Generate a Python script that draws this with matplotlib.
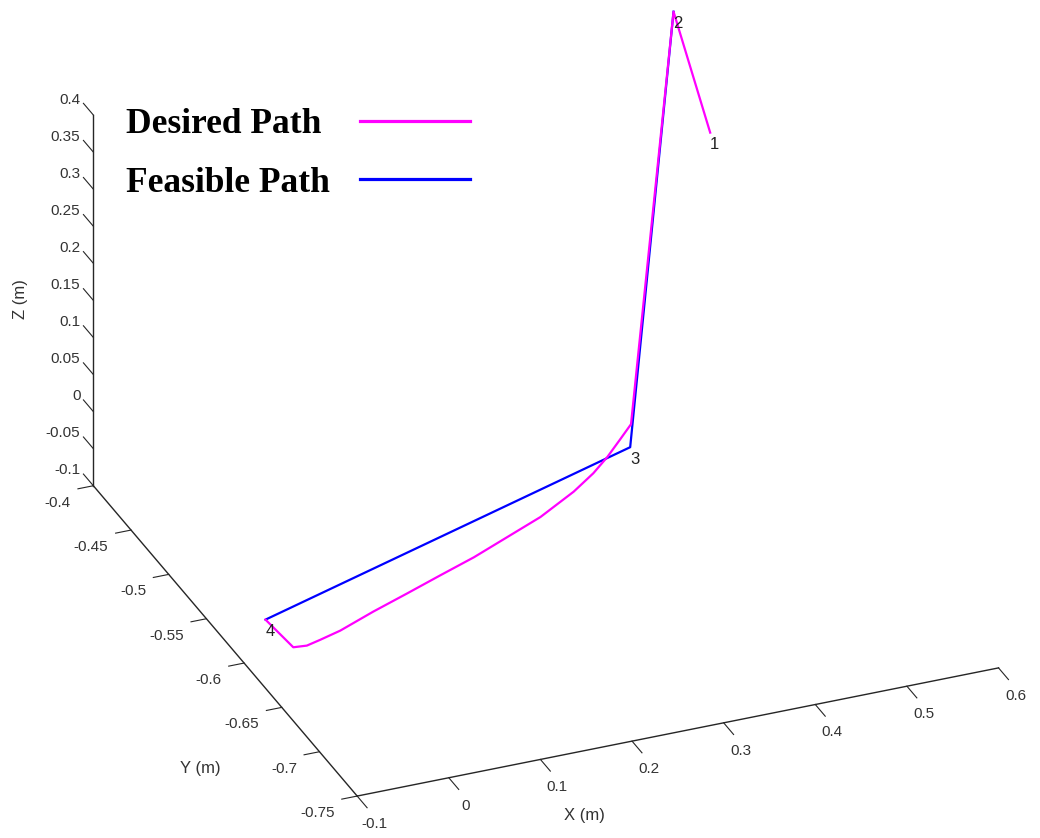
import numpy as np
import matplotlib
matplotlib.use("Agg")
import matplotlib.pyplot as plt
from matplotlib.font_manager import FontProperties
from mpl_toolkits.mplot3d import proj3d

# ---------------------------------------------------------------------------
# Path data (m)
# ---------------------------------------------------------------------------
desired_x = [0.565, 0.525, 0.421, 0.398, 0.373, 0.347, 0.314, 0.263, 0.216,
             0.169, 0.123, 0.078, 0.032, -0.014, -0.040, -0.057, -0.071, -0.075]
desired_y = [-0.410, -0.410, -0.480, -0.493, -0.507, -0.520, -0.534, -0.552, -0.565,
             -0.578, -0.589, -0.600, -0.611, -0.623, -0.628, -0.631, -0.630, -0.598]
desired_z = [0.224, 0.397, -0.05, -0.05, -0.05, -0.05, -0.05, -0.05, -0.05,
             -0.05, -0.05, -0.05, -0.05, -0.05, -0.05, -0.05, -0.05, -0.05]

feasible_x = [0.525, 0.402, -0.075]
feasible_y = [-0.410, -0.502, -0.598]
feasible_z = [0.397, -0.05, -0.05]

waypoint_ids = ["1", "2", "3", "4"]
waypoint_x = [0.565, 0.525, 0.402, -0.075]
waypoint_y = [-0.410, -0.410, -0.502, -0.598]
waypoint_z = [0.224, 0.397, -0.05, -0.05]

x_ticks = [-0.1, 0.0, 0.1, 0.2, 0.3, 0.4, 0.5, 0.6]
y_ticks = [-0.75, -0.7, -0.65, -0.6, -0.55, -0.5, -0.45, -0.4]
z_ticks = [-0.1, -0.05, 0.0, 0.05, 0.1, 0.15, 0.2, 0.25, 0.3, 0.35, 0.4]
x_ticklabels = ["-0.1", "0", "0.1", "0.2", "0.3", "0.4", "0.5", "0.6"]
y_ticklabels = ["-0.75", "-0.7", "-0.65", "-0.6", "-0.55", "-0.5", "-0.45", "-0.4"]
z_ticklabels = ["-0.1", "-0.05", "0", "0.05", "0.1", "0.15", "0.2", "0.25", "0.3", "0.35", "0.4"]

XLIM = (-0.1, 0.6)
YLIM = (-0.75, -0.4)
ZLIM = (-0.1, 0.4)

W, H = 1040, 838
AXIS_COLOR = "#262626"
TEXT_COLOR = "#333333"

plt.rcParams["font.family"] = ["Liberation Sans", "DejaVu Sans"]

fig = plt.figure(figsize=(W / 100, H / 100), dpi=100)
ax = fig.add_axes([0.05, 0.05, 0.9, 0.9], projection="3d", computed_zorder=False)

ax.plot(feasible_x, feasible_y, feasible_z, color="#0000FF", linewidth=1.6,
        label="Feasible Path", zorder=2)
ax.plot(desired_x, desired_y, desired_z, color="#FF00FF", linewidth=1.6,
        label="Desired Path", zorder=3)

ax.set_proj_type("ortho")
ax.view_init(elev=29.0, azim=-112.4)
ax.set_box_aspect((1.0, 0.998, 0.611))
ax.set_xlim(*XLIM)
ax.set_ylim(*YLIM)
ax.set_zlim(*ZLIM)

ax.set_xticks(x_ticks)
ax.set_yticks(y_ticks)
ax.set_zticks(z_ticks)
ax.tick_params(color=AXIS_COLOR)
ax.grid(False)

for axis in (ax.xaxis, ax.yaxis, ax.zaxis):
    axis.set_pane_color((1, 1, 1, 0))
    axis.line.set_color(AXIS_COLOR)
    axis.line.set_linewidth(1.0)
    axis.set_tick_params(labelbottom=False)

# tick marks pointing away from the box, z ticks along y
ax.zaxis._get_tickdir = lambda position: 1
ax.xaxis._axinfo["tick"].update(inward_factor=0.47, outward_factor=0.0)
ax.yaxis._axinfo["tick"].update(inward_factor=0.30, outward_factor=0.0)
ax.zaxis._axinfo["tick"].update(inward_factor=0.0, outward_factor=0.47)

# Place the axis box so the frame corners sit at fixed figure pixels
# (pixel rows counted from the top of the figure).
corner_x = np.array([-0.1, -0.1, 0.6, -0.1])
corner_y = np.array([-0.4, -0.75, -0.75, -0.4])
corner_z = np.array([-0.1, -0.1, -0.1, 0.4])
corner_px = np.array([[93.3, 485.7], [357.3, 796.0], [998.5, 668.0], [93.3, 115.0]])

fig.canvas.draw()
M = ax.get_proj()
px, py, _ = proj3d.proj_transform(corner_x, corner_y, corner_z, M)
disp = ax.transData.transform(np.column_stack([px, py]))
bb = ax.get_position()
side = bb.width * W
centre = np.array([(bb.x0 + bb.width / 2) * W, (bb.y0 + bb.height / 2) * H])
q = (disp - centre) / side
target = np.column_stack([corner_px[:, 0], H - corner_px[:, 1]])
rows, rhs = [], []
for (qx, qy), (tx, ty) in zip(q, target):
    rows += [[qx, 1, 0], [qy, 0, 1]]
    rhs += [tx, ty]
s_new, cx_new, cy_new = np.linalg.lstsq(np.array(rows), np.array(rhs), rcond=None)[0]
ax.set_position([(cx_new - s_new / 2) / W, (cy_new - s_new / 2) / H, s_new / W, s_new / H])


def label3d(x, y, z, s, **kw):
    """Text anchored at a 3D data point (projected once, view is fixed)."""
    x2, y2, _ = proj3d.proj_transform(x, y, z, M)
    ax.text2D(x2, y2, s, transform=ax.transData, **kw)


# tick labels, offset outward along each tick direction
for v, lab in zip(x_ticks, x_ticklabels):
    label3d(v, YLIM[0] - 0.0225, ZLIM[0] - 0.0108, lab, ha="center", va="center",
            fontsize=11, color=TEXT_COLOR)
for v, lab in zip(y_ticks, y_ticklabels):
    label3d(XLIM[0] - 0.0246, v, ZLIM[0] - 0.0169, lab, ha="right", va="center",
            fontsize=11, color=TEXT_COLOR)
for v, lab in zip(z_ticks, z_ticklabels):
    label3d(XLIM[0], YLIM[1] + 0.0172, v, lab, ha="right", va="center",
            fontsize=11, color=TEXT_COLOR)

# waypoint numbers
for s, x, y, z in zip(waypoint_ids, waypoint_x, waypoint_y, waypoint_z):
    label3d(x, y, z - 0.006, s, ha="left", va="top", fontsize=12, color="#222222")

# Axis titles
fig.text(21 / W, 1 - 299 / H, "Z (m)", rotation=90, ha="center", va="center",
         fontsize=12, color=TEXT_COLOR)
fig.text(200 / W, 1 - 768 / H, "Y (m)", ha="center", va="center",
         fontsize=12, color=TEXT_COLOR)
fig.text(584 / W, 1 - 815 / H, "X (m)", ha="center", va="center",
         fontsize=12, color=TEXT_COLOR)

# Legend: text first, line sample to the right
handles, labels = ax.get_legend_handles_labels()
order = [1, 0]
leg = fig.legend([handles[i] for i in order], [labels[i] for i in order],
                 loc="upper left", bbox_to_anchor=(126 / W, 1 - 108 / H),
                 prop=FontProperties(family="Liberation Serif", weight="bold", size=25.5),
                 frameon=False, markerfirst=False, handlelength=3.09,
                 handletextpad=0.86, labelspacing=0.73, borderpad=0, borderaxespad=0)
for line in leg.get_lines():
    line.set_linewidth(2.3)

# left-align the legend labels while keeping the line samples in one column
fig.canvas.draw()
renderer = fig.canvas.get_renderer()
widths = [t.get_window_extent(renderer).width for t in leg.get_texts()]
column = leg._legend_handle_box.get_children()[0]
for box, w in zip(column.get_children(), widths):
    box.sep += (max(widths) - w) * 72 / fig.dpi

fig.savefig("out.png", dpi=100)
